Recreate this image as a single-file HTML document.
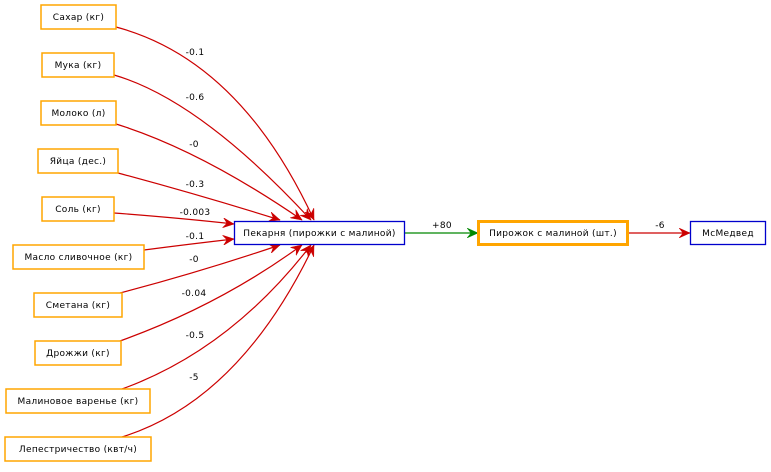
<!DOCTYPE html>
<html><head><meta charset="utf-8"><style>
html,body{margin:0;padding:0;background:#fff;}
svg text{font-family:"DejaVu Sans","Liberation Sans",sans-serif;font-size:9px;fill:#000;letter-spacing:0.3px;}
</style></head><body>
<svg width="771" height="467" viewBox="0 0 771 467" xmlns="http://www.w3.org/2000/svg">
<defs>
<marker id="r" markerWidth="12" markerHeight="10" refX="11" refY="5" orient="auto" markerUnits="userSpaceOnUse"><path d="M0,0 L11,5 L0,10 L4,5 Z" fill="#c00" stroke="#c00" stroke-width="0.5"/></marker>
<marker id="g" markerWidth="12" markerHeight="10" refX="11" refY="5" orient="auto" markerUnits="userSpaceOnUse"><path d="M0,0 L11,5 L0,10 L4,5 Z" fill="#080" stroke="#080" stroke-width="0.5"/></marker>
</defs>
<g fill="none" stroke="#c00" stroke-width="1.2" marker-end="url(#r)">
<path d="M116,27 Q240,60 314,220"/>
<path d="M114,75 Q200,100 311,220"/>
<path d="M116,124 Q200,150 302,220"/>
<path d="M118,173 Q200,195 280,220"/>
<path d="M114,213 Q180,218 234,224"/>
<path d="M144,250 Q190,244 234,239"/>
<path d="M120,293 Q200,272 280,245"/>
<path d="M120,341 Q220,305 302,245"/>
<path d="M122,389 Q230,350 311,245"/>
<path d="M122,437 Q240,400 314,245"/>
<path d="M628,233 L690,233"/>
</g>
<path d="M405,233 L478,233" stroke="#080" stroke-width="1.2" fill="none" marker-end="url(#g)"/>
<g fill="#fff" stroke="#ffa500" stroke-width="1.5">
<rect x="41" y="5" width="75" height="24"/>
<rect x="42" y="53" width="72" height="24"/>
<rect x="41" y="101" width="75" height="24"/>
<rect x="38" y="149" width="80" height="24"/>
<rect x="42" y="197" width="72" height="24"/>
<rect x="13" y="245" width="131" height="24"/>
<rect x="34" y="293" width="88" height="24"/>
<rect x="35" y="341" width="86" height="24"/>
<rect x="6" y="389" width="144" height="24"/>
<rect x="5" y="437" width="146" height="24"/>
<rect x="478.5" y="221.5" width="149" height="23" stroke-width="3"/>
</g>
<g fill="#fff" stroke="#00c" stroke-width="1.3">
<rect x="234.5" y="221.5" width="170" height="23"/>
<rect x="690.5" y="221.5" width="75" height="23"/>
</g>
<g text-anchor="middle">
<text x="78.5" y="20">Сахар (кг)</text>
<text x="78" y="68">Мука (кг)</text>
<text x="78.5" y="116">Молоко (л)</text>
<text x="78" y="164">Яйца (дес.)</text>
<text x="78" y="212">Соль (кг)</text>
<text x="78.5" y="260">Масло сливочное (кг)</text>
<text x="78" y="308">Сметана (кг)</text>
<text x="78" y="356">Дрожжи (кг)</text>
<text x="78" y="404">Малиновое варенье (кг)</text>
<text x="78" y="452">Лепестричество (квт/ч)</text>
<text x="319.5" y="236">Пекарня (пирожки с малиной)</text>
<text x="553" y="236">Пирожок с малиной (шт.)</text>
<text x="728" y="236">МсМедвед</text>
<text x="195" y="55">-0.1</text>
<text x="195" y="100">-0.6</text>
<text x="194" y="147">-0</text>
<text x="195" y="187">-0.3</text>
<text x="195" y="215">-0.003</text>
<text x="195" y="239">-0.1</text>
<text x="194" y="262">-0</text>
<text x="194" y="296">-0.04</text>
<text x="195" y="338">-0.5</text>
<text x="194" y="380">-5</text>
<text x="442" y="228">+80</text>
<text x="660" y="228">-6</text>
</g>
</svg>
</body></html>
